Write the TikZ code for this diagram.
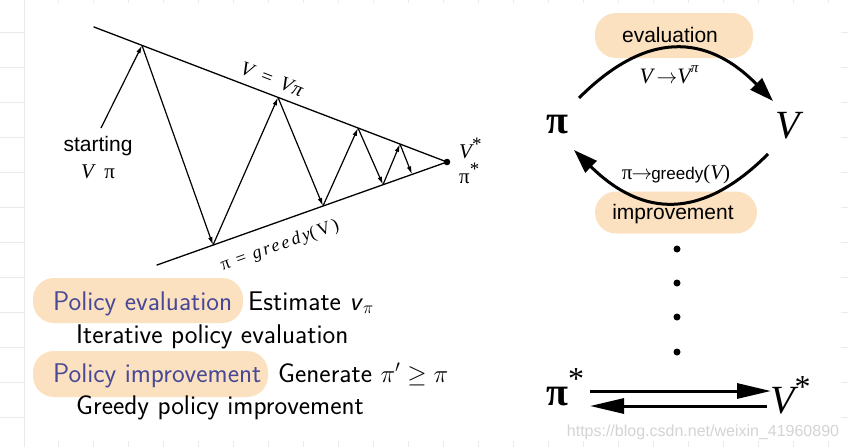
\documentclass[tikz,border=0pt]{standalone}
\usepackage{fontspec}
\usetikzlibrary{arrows.meta}
\newfontfamily\helv{Liberation Sans}
\newfontfamily\tms{Liberation Serif}
\newfontfamily\tmsls[LetterSpace=14]{Liberation Serif}
\definecolor{peach}{RGB}{251,225,192}
\definecolor{pblue}{RGB}{72,72,150}
\definecolor{gridc}{RGB}{234,234,234}
\definecolor{wmark}{RGB}{212,212,212}
\tikzset{
  thinline/.style={line width=1.3pt, line cap=round},
  zig/.style={line width=1.2pt, -{Latex[length=8pt,width=4.5pt]}},
  bigarc/.style={line width=3pt, -{Triangle[length=24pt,width=16pt]}},
  bigstraight/.style={line width=3pt, -{Triangle[length=34pt,width=15pt]}},
  hlbox/.style={fill=peach, rounded corners=21pt, inner sep=0pt},
  txt/.style={inner sep=0pt, anchor=base west},
  ctxt/.style={inner sep=0pt, anchor=base},
  gridline/.style={draw=gridc, line width=0.8pt}
}
\begin{document}
\begin{tikzpicture}[x=1pt,y=-1pt]
\useasboundingbox[fill=white] (0,0) rectangle (848,447);
% faint notebook grid
\foreach \yy in {32,67,...,417} {
  \draw[gridline] (0,\yy) -- (25,\yy);
  \draw[gridline] (841,\yy) -- (848,\yy);
}
\draw[gridline] (24,0) -- (24,447);
\foreach \xx in {58,93,...,848} {
  \draw[gridline] (\xx,0) -- (\xx,3);
  \draw[gridline] (\xx,441) -- (\xx,447);
}

% ---------- left: convergence triangle ----------
\coordinate (T0) at (94,27);
\coordinate (B0) at (157,265);
\coordinate (E) at (447,162);
\draw[thinline] (T0) -- (E) -- (B0);
\fill (E) circle (3.3);

\coordinate (s) at (101,128);
\coordinate (t1) at (142,45.4);
\coordinate (t2) at (278,97.4);
\coordinate (t3) at (358,128);
\coordinate (t4) at (400,144);
\coordinate (b1) at (213,245.1);
\coordinate (b2) at (323,206);
\coordinate (b3) at (383,184.7);
\coordinate (b4) at (412,174.4);
\draw[zig] (s) -- (t1);
\draw[zig] (t1) -- (b1);
\draw[zig] (b1) -- (t2);
\draw[zig] (t2) -- (b2);
\draw[zig] (b2) -- (t3);
\draw[zig] (t3) -- (b3);
\draw[zig] (b3) -- (t4);
\draw[zig] (t4) -- (b4);

\node[ctxt] (start) at (98,151) {\helv\fontsize{21}{24}\selectfont starting};
\node[ctxt] (startv) at (98,178) {\tms\fontsize{21}{24}\selectfont\itshape V\upshape\ \ π};
\node[inner sep=0pt, rotate=-21] (vlab) at (272,79) {\tms\fontsize{20}{22}\selectfont\itshape V\ \,=\ \,V\kern1pt π};
\node[inner sep=0pt, rotate=19.6] (glab) at (280,246) {\tmsls\fontsize{18}{20}\selectfont π = \itshape greedy\upshape(V)};
\node[txt] (vstar) at (459,158) {\tms\fontsize{21}{22}\selectfont\itshape V\upshape\raisebox{0.36em}{\fontsize{19}{20}\selectfont*}};
\node[txt] (pistar) at (459,183) {\tms\fontsize{21}{22}\selectfont π\raisebox{0.36em}{\fontsize{19}{20}\selectfont*}};

% ---------- bottom left text ----------
\node[hlbox, minimum width=210pt, minimum height=45pt] (hb1) at (138,300.5) {};
\node[hlbox, minimum width=235pt, minimum height=46pt] (hb2) at (150.5,374) {};
\begin{scope}[every node/.append style={font=\sffamily\fontsize{27}{32}\selectfont}]
\node[txt, text=pblue] (pe) at (53,310) {Policy evaluation};
\node[txt] (est) at (248,310) {Estimate \textit{v}$_{\pi}$};
\node[txt] (ipe) at (76,343) {Iterative policy evaluation};
\node[txt, text=pblue] (pim) at (53,382) {Policy improvement};
\node[txt] (gen) at (278,382) {Generate $\pi' \geq \pi$};
\node[txt] (gpi) at (76,414) {Greedy policy improvement};
\end{scope}

% ---------- right: cycle ----------
\node[hlbox, minimum width=158pt, minimum height=45pt] (evbox) at (674,35.5) {};
\node[hlbox, minimum width=162pt, minimum height=42pt] (imbox) at (676,212.5) {};
\node[ctxt] (evtxt) at (670,42) {\helv\fontsize{21}{24}\selectfont evaluation};
\node[ctxt] (imtxt) at (673,219) {\helv\fontsize{21}{24}\selectfont improvement};

\node[ctxt] (pi) at (557,133) {\tms\bfseries\fontsize{40}{42}\selectfont π};
\node[ctxt] (V) at (788,138) {\tms\fontsize{40}{42}\selectfont\itshape V};

\coordinate (a1s) at (579,98);
\coordinate (a1e) at (773,101);
\coordinate (a2s) at (768,154);
\coordinate (a2e) at (574,150);
\draw[bigarc] (a1s) .. controls (646,31) and (706,33) .. (a1e);
\draw[bigarc] (a2s) .. controls (701,221) and (642,217) .. (a2e);

\node[ctxt] (evlab) at (669,83) {\tms\fontsize{22}{24}\selectfont\itshape V\upshape\,$\rightarrow$\itshape V\upshape\raisebox{0.5em}{\fontsize{15}{16}\selectfont\itshape π}};
\node[ctxt] (imlab) at (676,179) {\tms\fontsize{21}{24}\selectfont π\kern-1pt$\rightarrow$\kern-1pt{\helv\fontsize{17}{20}\selectfont greedy}(\itshape V\upshape)};

\foreach \yy/\nm in {249/d1,283/d2,317/d3,352/d4} {
  \fill (677,\yy) circle (3.5) coordinate (\nm);
}

\node[txt] (pis) at (546,405) {\tms\bfseries\fontsize{40}{42}\selectfont π\mdseries\raisebox{0.4em}{\fontsize{32}{34}\selectfont*}};
\node[txt] (Vs) at (770,413) {\tms\fontsize{40}{42}\selectfont\itshape V\upshape\raisebox{0.4em}{\fontsize{32}{34}\selectfont*}};
\coordinate (r1s) at (590,391);
\coordinate (r1e) at (771,391);
\coordinate (r2s) at (767,406);
\coordinate (r2e) at (590,406);
\draw[bigstraight] (r1s) -- (r1e);
\draw[bigstraight] (r2s) -- (r2e);

\node[ctxt, text=wmark] (wm) at (703,436) {\helv\fontsize{16}{18}\selectfont https://blog.csdn.net/weixin\_41960890};
\end{tikzpicture}
\end{document}
